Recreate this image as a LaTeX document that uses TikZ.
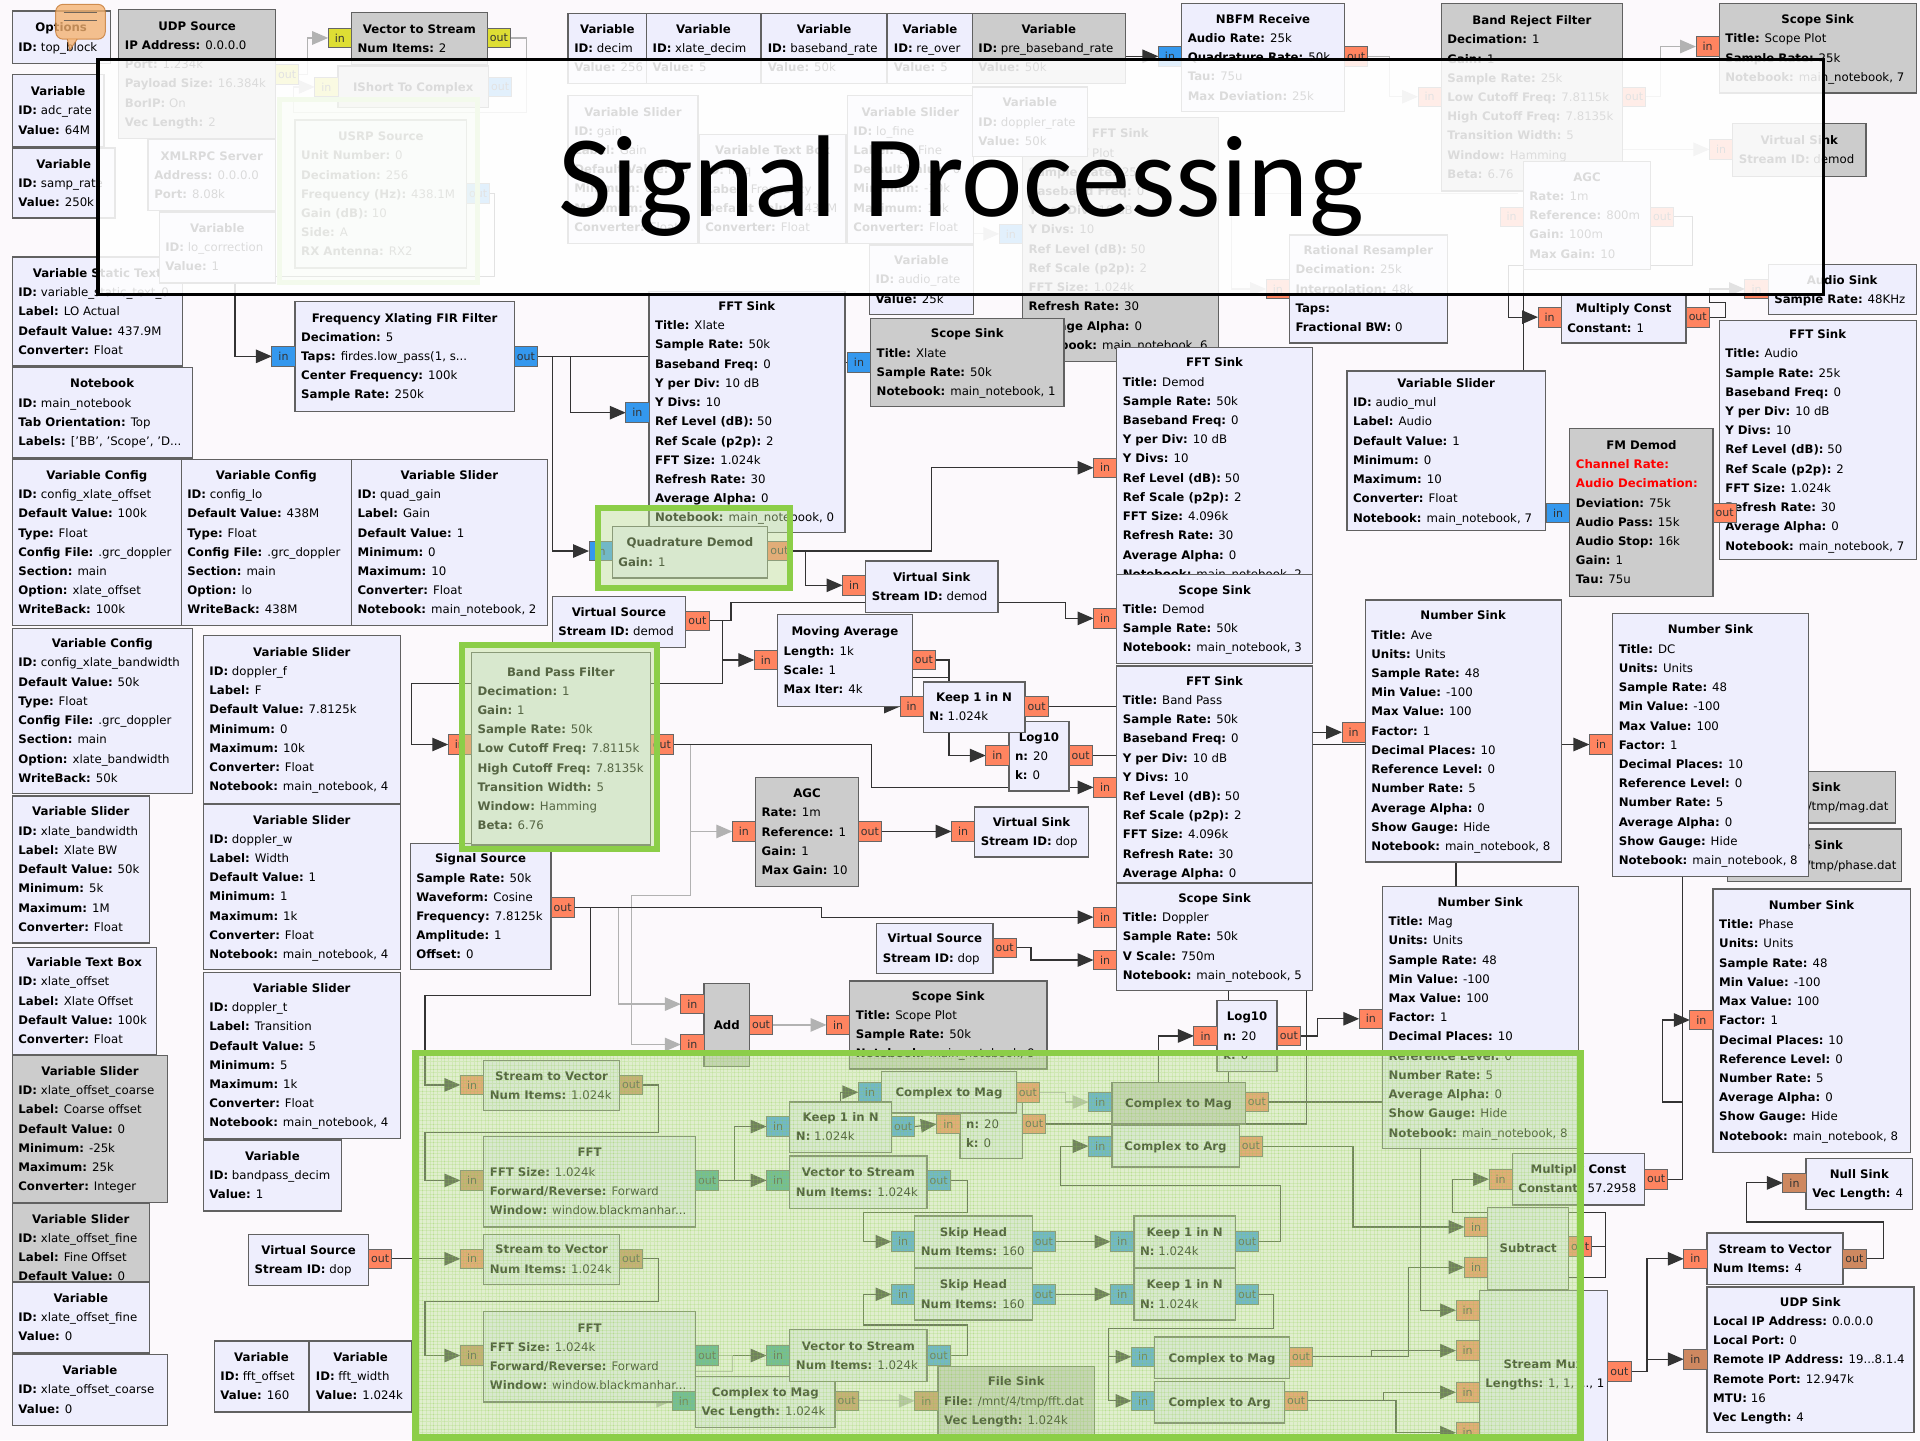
\documentclass[tikz,border=0pt]{standalone}
\usepackage{fontspec}
\setmainfont{DejaVu Sans}
\newfontfamily\headfont{Carlito}
\usetikzlibrary{arrows.meta,calc,patterns}

\definecolor{pagebg}{RGB}{252,249,252}
\definecolor{blkfill}{RGB}{238,238,253}
\definecolor{blkgray}{RGB}{204,204,204}
\definecolor{pblue}{RGB}{52,152,238}
\definecolor{porange}{RGB}{255,132,96}
\definecolor{pyellow}{RGB}{222,222,52}
\definecolor{pteal}{RGB}{58,160,150}
\definecolor{pbrown}{RGB}{206,136,96}
\definecolor{grpgreen}{RGB}{140,206,72}
\definecolor{grpfill}{RGB}{190,225,150}
\definecolor{bubble}{RGB}{245,178,112}
\definecolor{bubbleedge}{RGB}{196,120,50}

\pgfdeclarelayer{bg}
\pgfdeclarelayer{wires}
\pgfdeclarelayer{top}
\pgfsetlayers{bg,wires,main,top}

% block text helpers
\newdimen\blkW
\newcommand\rowstrut{\rule[-2.6pt]{0pt}{12pt}}
\newcommand\kv[2]{\hbox to \blkW{\rowstrut\textbf{#1:} #2\hss}}
\newcommand\kvred[1]{\hbox to \blkW{\rowstrut\textcolor{red}{\textbf{#1:}}\hss}}
\newcommand\blkfont{\fontsize{9.6}{15.7}\selectfont}

% \blk[style]{name}{x1}{y1}{x2}{y2}{title}{rows}
\newcommand\blk[8][]{%
  \node[blk,#1,anchor=north west,minimum width={#5-#3},minimum height={#6-#4}] (#2) at (#3,#4) {};
  \node[inner sep=0pt,font=\blkfont] at (#2.center) {\blkW=\dimexpr #5pt-#3pt-10pt\relax
    \vbox{\baselineskip=15.7pt\lineskiplimit=-20pt\lineskip=0pt
      \hbox to \blkW{\hss\rowstrut\textbf{#7}\hss}#8}};
}
% ports
\newcommand\pin[4][porange]{\node[port,fill=#1,anchor=east] (#2) at (#3,#4) {in};}
\newcommand\pout[4][porange]{\node[port,fill=#1,anchor=west] (#2) at (#3,#4) {out};}

\tikzset{
  blk/.style={draw=black!62, line width=1.1pt, fill=blkfill, inner sep=0pt, outer sep=0pt},
  offblk/.style={fill=blkgray},
  port/.style={draw=black!60, line width=0.7pt, minimum height=16pt, minimum width=19pt,
    inner sep=0pt, outer sep=0pt, font=\fontsize{9}{9}\selectfont, text=black!80},
  wire/.style={draw=black!80, line width=1pt, -{Triangle[length=13pt,width=11pt]}},
  wireg/.style={draw=black!30, line width=1pt, -{Triangle[length=13pt,width=11pt]}},
  wirenoarr/.style={draw=black!80, line width=1pt},
}

\begin{document}
\begin{tikzpicture}[x=1pt,y=-1pt]
\useasboundingbox (0,0) rectangle (1568,1176);
\begin{pgfonlayer}{bg}
  \fill[pagebg] (0,0) rectangle (1568,1176);
\end{pgfonlayer}

% ---------------- top left ----------------
\blk{opt}{10}{9}{90}{52}{Options}{\kv{ID}{top\_block}}
\blk[offblk]{udpsrc}{97}{8}{225}{113}{UDP Source}{\kv{IP Address}{0.0.0.0}\kv{Port}{1.234k}\kv{Payload Size}{16.384k}\kv{BorIP}{On}\kv{Vec Length}{2}}
\pout[pyellow]{udpsrc-out}{225}{61}
\blk[offblk]{vtos}{287}{10}{398}{53}{Vector to Stream}{\kv{Num Items}{2}}
\pin[pyellow]{vtos-in}{287}{31}
\pout[pyellow]{vtos-out}{398}{31}
\blk[offblk]{ishort}{276}{54}{399}{88}{IShort To Complex}{}
\pin[pyellow]{ishort-in}{276}{71}
\pout[pblue]{ishort-out}{399}{71}
\blk{adcrate}{10}{61}{85}{120}{Variable}{\kv{ID}{adc\_rate}\kv{Value}{64M}}
\blk{samprate}{10}{121}{94}{178}{Variable}{\kv{ID}{samp\_rate}\kv{Value}{250k}}
\blk{xmlrpc}{121}{114}{225}{172}{XMLRPC Server}{\kv{Address}{0.0.0.0}\kv{Port}{8.08k}}
\blk{usrp}{241}{98}{381}{219}{USRP Source}{\kv{Unit Number}{0}\kv{Decimation}{256}\kv{Frequency (Hz)}{438.1M}\kv{Gain (dB)}{10}\kv{Side}{A}\kv{RX Antenna}{RX2}}
\pout[pblue]{usrp-out}{381}{158}
\blk{statictext}{10}{210}{149}{299}{Variable Static Text}{\kv{ID}{variable\_static\_text\_0}\kv{Label}{LO Actual}\kv{Default Value}{437.9M}\kv{Converter}{Float}}
\blk{locorr}{130}{173}{225}{231}{Variable}{\kv{ID}{lo\_correction}\kv{Value}{1}}
\blk{notebook}{10}{300}{157}{374}{Notebook}{\kv{ID}{main\_notebook}\kv{Tab Orientation}{Top}\kv{Labels}{['BB', 'Scope', 'D...}}
\blk{fxlate}{241}{246}{420}{336}{Frequency Xlating FIR Filter}{\kv{Decimation}{5}\kv{Taps}{firdes.low\_pass(1, s...}\kv{Center Frequency}{100k}\kv{Sample Rate}{250k}}
\pin[pblue]{fxlate-in}{241}{291}
\pout[pblue]{fxlate-out}{420}{291}

% ---------------- left column ----------------
\blk{cfgxoff}{10}{375}{148}{511}{Variable Config}{\kv{ID}{config\_xlate\_offset}\kv{Default Value}{100k}\kv{Type}{Float}\kv{Config File}{.grc\_doppler}\kv{Section}{main}\kv{Option}{xlate\_offset}\kv{WriteBack}{100k}}
\blk{cfglo}{148}{375}{287}{511}{Variable Config}{\kv{ID}{config\_lo}\kv{Default Value}{438M}\kv{Type}{Float}\kv{Config File}{.grc\_doppler}\kv{Section}{main}\kv{Option}{lo}\kv{WriteBack}{438M}}
\blk{slquad}{287}{375}{447}{511}{Variable Slider}{\kv{ID}{quad\_gain}\kv{Label}{Gain}\kv{Default Value}{1}\kv{Minimum}{0}\kv{Maximum}{10}\kv{Converter}{Float}\kv{Notebook}{main\_notebook, 2}}
\blk{cfgxbw}{10}{513}{157}{648}{Variable Config}{\kv{ID}{config\_xlate\_bandwidth}\kv{Default Value}{50k}\kv{Type}{Float}\kv{Config File}{.grc\_doppler}\kv{Section}{main}\kv{Option}{xlate\_bandwidth}\kv{WriteBack}{50k}}
\blk{slxbw}{10}{650}{122}{770}{Variable Slider}{\kv{ID}{xlate\_bandwidth}\kv{Label}{Xlate BW}\kv{Default Value}{50k}\kv{Minimum}{5k}\kv{Maximum}{1M}\kv{Converter}{Float}}
\blk{tbxoff}{10}{774}{128}{861}{Variable Text Box}{\kv{ID}{xlate\_offset}\kv{Label}{Xlate Offset}\kv{Default Value}{100k}\kv{Converter}{Float}}
\blk[offblk]{slcoarse}{10}{862}{137}{982}{Variable Slider}{\kv{ID}{xlate\_offset\_coarse}\kv{Label}{Coarse offset}\kv{Default Value}{0}\kv{Minimum}{-25k}\kv{Maximum}{25k}\kv{Converter}{Integer}}
\blk[offblk]{slfine}{10}{983}{122}{1102}{Variable Slider}{\kv{ID}{xlate\_offset\_fine}\kv{Label}{Fine Offset}\kv{Default Value}{0}\kv{Minimum}{-1k}\kv{Maximum}{1k}\kv{Converter}{Float}}
\blk{vfine}{10}{1047}{122}{1105}{Variable}{\kv{ID}{xlate\_offset\_fine}\kv{Value}{0}}
\blk{vcoarse}{10}{1106}{137}{1164}{Variable}{\kv{ID}{xlate\_offset\_coarse}\kv{Value}{0}}
\blk{dopf}{166}{519}{327}{656}{Variable Slider}{\kv{ID}{doppler\_f}\kv{Label}{F}\kv{Default Value}{7.8125k}\kv{Minimum}{0}\kv{Maximum}{10k}\kv{Converter}{Float}\kv{Notebook}{main\_notebook, 4}}
\blk{dopw}{166}{657}{327}{792}{Variable Slider}{\kv{ID}{doppler\_w}\kv{Label}{Width}\kv{Default Value}{1}\kv{Minimum}{1}\kv{Maximum}{1k}\kv{Converter}{Float}\kv{Notebook}{main\_notebook, 4}}
\blk{dopt}{166}{794}{327}{930}{Variable Slider}{\kv{ID}{doppler\_t}\kv{Label}{Transition}\kv{Default Value}{5}\kv{Minimum}{5}\kv{Maximum}{1k}\kv{Converter}{Float}\kv{Notebook}{main\_notebook, 4}}
\blk{bpdecim}{166}{931}{279}{989}{Variable}{\kv{ID}{bandpass\_decim}\kv{Value}{1}}
\blk{vsrcdop}{203}{1008}{301}{1050}{Virtual Source}{\kv{Stream ID}{dop}}
\pout{vsrcdop-out}{301}{1028}
\blk{fftoff}{175}{1095}{252}{1153}{Variable}{\kv{ID}{fft\_offset}\kv{Value}{160}}
\blk{fftwid}{253}{1095}{336}{1153}{Variable}{\kv{ID}{fft\_width}\kv{Value}{1.024k}}

% ---------------- top row ----------------
\blk{vdecim}{464}{11}{528}{68}{Variable}{\kv{ID}{decim}\kv{Value}{256}}
\blk{vxdecim}{528}{11}{621}{68}{Variable}{\kv{ID}{xlate\_decim}\kv{Value}{5}}
\blk{vbbrate}{622}{11}{724}{68}{Variable}{\kv{ID}{baseband\_rate}\kv{Value}{50k}}
\blk{vreover}{725}{11}{794}{68}{Variable}{\kv{ID}{re\_over}\kv{Value}{5}}
\blk[offblk]{vprebb}{794}{11}{919}{68}{Variable}{\kv{ID}{pre\_baseband\_rate}\kv{Value}{50k}}
\blk{slgain}{464}{78}{570}{199}{Variable Slider}{\kv{ID}{gain}\kv{Label}{Gain}\kv{Default Value}{10}\kv{Minimum}{0}\kv{Maximum}{50}\kv{Converter}{Float}}
\blk{tbfreq}{571}{110}{691}{199}{Variable Text Box}{\kv{ID}{freq}\kv{Label}{Frequency}\kv{Default Value}{438M}\kv{Converter}{Float}}
\blk{sllofine}{692}{78}{795}{199}{Variable Slider}{\kv{ID}{lo\_fine}\kv{Label}{LO Fine}\kv{Default Value}{0}\kv{Minimum}{-10k}\kv{Maximum}{10k}\kv{Converter}{Float}}
\blk{vaudiorate}{710}{200}{795}{257}{Variable}{\kv{ID}{audio\_rate}\kv{Value}{25k}}
\blk[offblk]{fftfaded}{835}{96}{995}{295}{FFT Sink}{\kv{Title}{FFT Plot}\kv{Sample Rate}{25k}\kv{Baseband Freq}{0}\kv{Y per Div}{10 dB}\kv{Y Divs}{10}\kv{Ref Level (dB)}{50}\kv{Ref Scale (p2p)}{2}\kv{FFT Size}{1.024k}\kv{Refresh Rate}{30}\kv{Average Alpha}{0}\kv{Notebook}{main\_notebook, 6}}
\pin[pblue]{fftfaded-in}{835}{191}
\blk{vdopprate}{794}{71}{888}{128}{Variable}{\kv{ID}{doppler\_rate}\kv{Value}{50k}}
\blk{nbfm}{965}{3}{1098}{91}{NBFM Receive}{\kv{Audio Rate}{25k}\kv{Quadrature Rate}{50k}\kv{Tau}{75u}\kv{Max Deviation}{25k}}
\pin[pblue]{nbfm-in}{965}{46}
\pout{nbfm-out}{1098}{46}
\blk[offblk]{brf}{1177}{3}{1325}{156}{Band Reject Filter}{\kv{Decimation}{1}\kv{Gain}{1}\kv{Sample Rate}{25k}\kv{Low Cutoff Freq}{7.8115k}\kv{High Cutoff Freq}{7.8135k}\kv{Transition Width}{5}\kv{Window}{Hamming}\kv{Beta}{6.76}}
\pin{brf-in}{1177}{79}
\pout{brf-out}{1325}{79}
\blk[offblk]{scopetop}{1404}{3}{1565}{76}{Scope Sink}{\kv{Title}{Scope Plot}\kv{Sample Rate}{25k}\kv{Notebook}{main\_notebook, 7}}
\pin{scopetop-in}{1404}{38}
\blk[offblk]{vsdt}{1415}{101}{1524}{144}{Virtual Sink}{\kv{Stream ID}{demod}}
\pin{vsdt-in}{1415}{122}
\blk{agcf}{1244}{132}{1348}{220}{AGC}{\kv{Rate}{1m}\kv{Reference}{800m}\kv{Gain}{100m}\kv{Max Gain}{10}}
\pin{agcf-in}{1244}{177}
\pout{agcf-out}{1348}{177}
\blk{ratres}{1053}{192}{1182}{280}{Rational Resampler}{\kv{Decimation}{25k}\kv{Interpolation}{48k}\kv{Taps}{}\kv{Fractional BW}{0}}
\pin{ratres-in}{1053}{236}
\blk{audiosink}{1444}{216}{1565}{257}{Audio Sink}{\kv{Sample Rate}{48KHz}}
\pin{audiosink-in}{1444}{236}
\blk{mc}{1275}{240}{1377}{280}{Multiply Const}{\kv{Constant}{1}}
\pin{mc-in}{1275}{259}
\pout{mc-out}{1377}{259}
\blk{fftaudio}{1404}{262}{1565}{457}{FFT Sink}{\kv{Title}{Audio}\kv{Sample Rate}{25k}\kv{Baseband Freq}{0}\kv{Y per Div}{10 dB}\kv{Y Divs}{10}\kv{Ref Level (dB)}{50}\kv{Ref Scale (p2p)}{2}\kv{FFT Size}{1.024k}\kv{Refresh Rate}{30}\kv{Average Alpha}{0}\kv{Notebook}{main\_notebook, 7}}
\blk{slaudio}{1100}{303}{1262}{433}{Variable Slider}{\kv{ID}{audio\_mul}\kv{Label}{Audio}\kv{Default Value}{1}\kv{Minimum}{0}\kv{Maximum}{10}\kv{Converter}{Float}\kv{Notebook}{main\_notebook, 7}}
\blk[offblk]{fmdemod}{1282}{350}{1399}{487}{FM Demod}{\kvred{Channel Rate}\kvred{Audio Decimation}\kv{Deviation}{75k}\kv{Audio Pass}{15k}\kv{Audio Stop}{16k}\kv{Gain}{1}\kv{Tau}{75u}}
\pin[pblue]{fmdemod-in}{1282}{419}
\pout{fmdemod-out}{1399}{419}

% ---------------- middle ----------------
\blk{fftxlate}{530}{238}{690}{435}{FFT Sink}{\kv{Title}{Xlate}\kv{Sample Rate}{50k}\kv{Baseband Freq}{0}\kv{Y per Div}{10 dB}\kv{Y Divs}{10}\kv{Ref Level (dB)}{50}\kv{Ref Scale (p2p)}{2}\kv{FFT Size}{1.024k}\kv{Refresh Rate}{30}\kv{Average Alpha}{0}\kv{Notebook}{main\_notebook, 0}}
\pin[pblue]{fftxlate-in}{530}{337}
\blk[offblk]{scopexlate}{711}{260}{869}{332}{Scope Sink}{\kv{Title}{Xlate}\kv{Sample Rate}{50k}\kv{Notebook}{main\_notebook, 1}}
\pin[pblue]{scopexlate-in}{711}{296}
\blk{fftdemod}{912}{284}{1072}{481}{FFT Sink}{\kv{Title}{Demod}\kv{Sample Rate}{50k}\kv{Baseband Freq}{0}\kv{Y per Div}{10 dB}\kv{Y Divs}{10}\kv{Ref Level (dB)}{50}\kv{Ref Scale (p2p)}{2}\kv{FFT Size}{4.096k}\kv{Refresh Rate}{30}\kv{Average Alpha}{0}\kv{Notebook}{main\_notebook, 2}}
\pin{fftdemod-in}{912}{382}
\blk{scopedemod}{912}{469}{1072}{542}{Scope Sink}{\kv{Title}{Demod}\kv{Sample Rate}{50k}\kv{Notebook}{main\_notebook, 3}}
\pin{scopedemod-in}{912}{505}
\blk{fftbp}{912}{544}{1072}{741}{FFT Sink}{\kv{Title}{Band Pass}\kv{Sample Rate}{50k}\kv{Baseband Freq}{0}\kv{Y per Div}{10 dB}\kv{Y Divs}{10}\kv{Ref Level (dB)}{50}\kv{Ref Scale (p2p)}{2}\kv{FFT Size}{4.096k}\kv{Refresh Rate}{30}\kv{Average Alpha}{0}\kv{Notebook}{main\_notebook, 4}}
\pin{fftbp-in}{912}{643}
\blk{scopedop}{912}{721}{1072}{809}{Scope Sink}{\kv{Title}{Doppler}\kv{Sample Rate}{50k}\kv{V Scale}{750m}\kv{Notebook}{main\_notebook, 5}}
\pin{scopedop-in1}{912}{749}
\pin{scopedop-in2}{912}{784}
\blk{qd}{500}{430}{627}{472}{Quadrature Demod}{\kv{Gain}{1}}
\pin[pblue]{qd-in}{500}{450}
\pout{qd-out}{627}{450}
\blk{vsinkdemod}{707}{458}{815}{500}{Virtual Sink}{\kv{Stream ID}{demod}}
\pin{vsinkdemod-in}{707}{478}
\blk{vsrcdemod}{451}{487}{560}{529}{Virtual Source}{\kv{Stream ID}{demod}}
\pout{vsrcdemod-out}{560}{507}
\blk{movavg}{635}{502}{745}{577}{Moving Average}{\kv{Length}{1k}\kv{Scale}{1}\kv{Max Iter}{4k}}
\pin{movavg-in}{635}{539}
\pout{movavg-out}{745}{539}
\blk{log10ave}{824}{589}{873}{646}{Log10}{\kv{n}{20}\kv{k}{0}}
\pin{log10ave-in}{824}{617}
\pout{log10ave-out}{873}{617}
\blk{keepave}{754}{557}{837}{598}{Keep 1 in N}{\kv{N}{1.024k}}
\pin{keepave-in}{754}{577}
\pout{keepave-out}{837}{577}
\blk{sigsrc}{335}{689}{450}{792}{Signal Source}{\kv{Sample Rate}{50k}\kv{Waveform}{Cosine}\kv{Frequency}{7.8125k}\kv{Amplitude}{1}\kv{Offset}{0}}
\pout{sigsrc-out}{450}{741}
\blk{bpf}{385}{533}{531}{690}{Band Pass Filter}{\kv{Decimation}{1}\kv{Gain}{1}\kv{Sample Rate}{50k}\kv{Low Cutoff Freq}{7.8115k}\kv{High Cutoff Freq}{7.8135k}\kv{Transition Width}{5}\kv{Window}{Hamming}\kv{Beta}{6.76}}
\pin{bpf-in}{385}{608}
\pout{bpf-out}{531}{608}
\blk[offblk]{agc}{617}{635}{701}{724}{AGC}{\kv{Rate}{1m}\kv{Reference}{1}\kv{Gain}{1}\kv{Max Gain}{10}}
\pin{agc-in}{617}{679}
\pout{agc-out}{701}{679}
\blk{vsinkdop}{796}{659}{889}{700}{Virtual Sink}{\kv{Stream ID}{dop}}
\pin{vsinkdop-in}{796}{679}
\blk{vsrcdopm}{716}{754}{811}{795}{Virtual Source}{\kv{Stream ID}{dop}}
\pout{vsrcdopm-out}{811}{774}
\blk[offblk]{add}{575}{803}{612}{871}{Add}{}
\pin{add-in1}{575}{820}
\pin{add-in2}{575}{853}
\pout{add-out}{612}{837}
\blk[offblk]{scopeplot}{694}{801}{855}{873}{Scope Sink}{\kv{Title}{Scope Plot}\kv{Sample Rate}{50k}\kv{Notebook}{main\_notebook, 9}}
\pin{scopeplot-in}{694}{837}
\blk{log10low}{994}{817}{1043}{875}{Log10}{\kv{n}{20}\kv{k}{0}}
\pin{log10low-in}{994}{846}
\pout{log10low-out}{1043}{846}

% ---------------- number sinks, right side ----------------
\blk{nsave}{1115}{490}{1275}{704}{Number Sink}{\kv{Title}{Ave}\kv{Units}{Units}\kv{Sample Rate}{48}\kv{Min Value}{-100}\kv{Max Value}{100}\kv{Factor}{1}\kv{Decimal Places}{10}\kv{Reference Level}{0}\kv{Number Rate}{5}\kv{Average Alpha}{0}\kv{Show Gauge}{Hide}\kv{Notebook}{main\_notebook, 8}}
\pin{nsave-in}{1115}{598}
\blk[offblk]{fsmag}{1412}{630}{1548}{672}{File Sink}{\kv{File}{/mnt/4/tmp/mag.dat}}
\blk[offblk]{fsphase}{1411}{677}{1553}{720}{File Sink}{\kv{File}{/mnt/4/tmp/phase.dat}}
\blk{nsdc}{1317}{501}{1477}{716}{Number Sink}{\kv{Title}{DC}\kv{Units}{Units}\kv{Sample Rate}{48}\kv{Min Value}{-100}\kv{Max Value}{100}\kv{Factor}{1}\kv{Decimal Places}{10}\kv{Reference Level}{0}\kv{Number Rate}{5}\kv{Average Alpha}{0}\kv{Show Gauge}{Hide}\kv{Notebook}{main\_notebook, 8}}
\pin{nsdc-in}{1317}{608}
\blk{nsmag}{1129}{724}{1289}{938}{Number Sink}{\kv{Title}{Mag}\kv{Units}{Units}\kv{Sample Rate}{48}\kv{Min Value}{-100}\kv{Max Value}{100}\kv{Factor}{1}\kv{Decimal Places}{10}\kv{Reference Level}{0}\kv{Number Rate}{5}\kv{Average Alpha}{0}\kv{Show Gauge}{Hide}\kv{Notebook}{main\_notebook, 8}}
\pin{nsmag-in}{1129}{832}
\blk{nsphase}{1399}{726}{1560}{941}{Number Sink}{\kv{Title}{Phase}\kv{Units}{Units}\kv{Sample Rate}{48}\kv{Min Value}{-100}\kv{Max Value}{100}\kv{Factor}{1}\kv{Decimal Places}{10}\kv{Reference Level}{0}\kv{Number Rate}{5}\kv{Average Alpha}{0}\kv{Show Gauge}{Hide}\kv{Notebook}{main\_notebook, 8}}
\pin{nsphase-in}{1399}{833}
\blk{nullsink}{1475}{946}{1562}{988}{Null Sink}{\kv{Vec Length}{4}}
\pin[pbrown]{nullsink-in}{1475}{966}
\blk{stvR}{1394}{1007}{1505}{1049}{Stream to Vector}{\kv{Num Items}{4}}
\pin{stvR-in}{1394}{1028}
\pout[pbrown]{stvR-out}{1505}{1028}
\blk{udpsink}{1394}{1051}{1563}{1170}{UDP Sink}{\kv{Local IP Address}{0.0.0.0}\kv{Local Port}{0}\kv{Remote IP Address}{19...8.1.4}\kv{Remote Port}{12.947k}\kv{MTU}{16}\kv{Vec Length}{4}}
\pin[pbrown]{udpsink-in}{1394}{1110}
\blk{mc2}{1235}{942}{1343}{984}{Multiply Const}{\kv{Constant}{57.2958}}
\pin{mc2-in}{1235}{963}
\pout{mc2-out}{1343}{963}
\blk{sub}{1215}{986}{1281}{1053}{Subtract}{}
\pin{sub-in1}{1215}{1002}
\pin{sub-in2}{1215}{1035}
\pout{sub-out}{1281}{1018}
\blk{smux}{1208}{1054}{1313}{1190}{Stream Mux}{\kv{Lengths}{1, 1, ..., 1}}
\pin{smux-in1}{1208}{1070}
\pin{smux-in2}{1208}{1103}
\pin{smux-in3}{1208}{1137}
\pin{smux-in4}{1208}{1170}
\pout{smux-out}{1313}{1120}

% ---------------- FFT group ----------------
\blk{stv1}{395}{866}{506}{907}{Stream to Vector}{\kv{Num Items}{1.024k}}
\pin{stv1-in}{395}{886}
\pout[pbrown]{stv1-out}{506}{886}
\blk{fft1}{395}{928}{568}{1002}{FFT}{\kv{FFT Size}{1.024k}\kv{Forward/Reverse}{Forward}\kv{Window}{window.blackmanhar...}}
\pin[pbrown]{fft1-in}{395}{964}
\pout[pteal]{fft1-out}{568}{964}
\blk{stv2}{395}{1008}{506}{1049}{Stream to Vector}{\kv{Num Items}{1.024k}}
\pin{stv2-in}{395}{1028}
\pout[pbrown]{stv2-out}{506}{1028}
\blk{fft2}{395}{1071}{568}{1145}{FFT}{\kv{FFT Size}{1.024k}\kv{Forward/Reverse}{Forward}\kv{Window}{window.blackmanhar...}}
\pin[pbrown]{fft2-in}{395}{1107}
\pout[pteal]{fft2-out}{568}{1107}
\blk{ctomagv}{568}{1124}{682}{1166}{Complex to Mag}{\kv{Vec Length}{1.024k}}
\pin[pteal]{ctomagv-in}{568}{1144}
\pout[pbrown]{ctomagv-out}{682}{1144}
\blk{v2s1}{645}{944}{757}{987}{Vector to Stream}{\kv{Num Items}{1.024k}}
\pin[pteal]{v2s1-in}{645}{964}
\pout[pblue]{v2s1-out}{757}{964}
\blk{v2s2}{645}{1086}{757}{1128}{Vector to Stream}{\kv{Num Items}{1.024k}}
\pin[pteal]{v2s2-in}{645}{1107}
\pout[pblue]{v2s2-out}{757}{1107}
\blk{log10h}{784}{890}{835}{946}{Log10}{\kv{n}{20}\kv{k}{0}}
\pin{log10h-in}{784}{918}
\pout{log10h-out}{835}{918}
\blk{ctomags}{720}{875}{830}{909}{Complex to Mag}{}
\pin[pblue]{ctomags-in}{720}{892}
\pout{ctomags-out}{830}{892}
\blk{keepA}{645}{900}{728}{941}{Keep 1 in N}{\kv{N}{1.024k}}
\pin[pblue]{keepA-in}{645}{920}
\pout[pblue]{keepA-out}{728}{920}
\blk{skip1}{747}{993}{843}{1035}{Skip Head}{\kv{Num Items}{160}}
\pin[pblue]{skip1-in}{747}{1014}
\pout[pblue]{skip1-out}{843}{1014}
\blk{skip2}{747}{1036}{843}{1078}{Skip Head}{\kv{Num Items}{160}}
\pin[pblue]{skip2-in}{747}{1057}
\pout[pblue]{skip2-out}{843}{1057}
\blk[offblk]{fsfft}{766}{1116}{894}{1172}{File Sink}{\kv{File}{/mnt/4/tmp/fft.dat}\kv{Vec Length}{1.024k}}
\pin[pbrown]{fsfft-in}{766}{1144}
\blk[offblk]{ctomagb}{908}{884}{1017}{918}{Complex to Mag}{}
\pin[pblue]{ctomagb-in}{908}{900}
\pout{ctomagb-out}{1017}{900}
\blk{ctoarg}{908}{919}{1012}{953}{Complex to Arg}{}
\pin[pblue]{ctoarg-in}{908}{936}
\pout{ctoarg-out}{1012}{936}
\blk{keepB1}{926}{993}{1009}{1035}{Keep 1 in N}{\kv{N}{1.024k}}
\pin[pblue]{keepB1-in}{926}{1014}
\pout[pblue]{keepB1-out}{1009}{1014}
\blk{keepB2}{926}{1036}{1009}{1078}{Keep 1 in N}{\kv{N}{1.024k}}
\pin[pblue]{keepB2-in}{926}{1057}
\pout[pblue]{keepB2-out}{1009}{1057}
\blk{ctomag3}{943}{1092}{1053}{1126}{Complex to Mag}{}
\pin[pblue]{ctomag3-in}{943}{1108}
\pout{ctomag3-out}{1053}{1108}
\blk{ctoarg3}{943}{1128}{1049}{1162}{Complex to Arg}{}
\pin[pblue]{ctoarg3-in}{943}{1144}
\pout{ctoarg3-out}{1049}{1144}

% comment bubble on the options block (translucent, text shows through)
\begin{scope}[opacity=0.78]
\filldraw[fill=bubble, draw=bubbleedge, line width=0.8pt, rounded corners=6pt] (45.5,3.5) rectangle (86,32);
\fill[bubble] (55,31.6) -- (57,41) -- (63,31.6) -- cycle;
\draw[bubbleedge, line width=0.8pt] (55,32) -- (57,41) -- (63,32);
\draw[black!70, line width=1pt] (52,10.3) -- (79,10.3) (52,16.9) -- (79,16.9);
\end{scope}

\coordinate (fadedsrc) at (788,191);
\coordinate (rrsrc) at (1240,158);

% ---------------- connections ----------------
\begin{pgfonlayer}{wires}
\draw[wireg] (udpsrc-out.east) -| (251,31) -- (vtos-in.west);
\draw[wireg] (vtos-out.east) -| (430,92) -| (240,71) -- (ishort-in.west);
\draw[wire] (usrp-out.east) -| (404,226) -| (192,291) -- (fxlate-in.west);
\draw[wire] (vprebb.center |- nbfm-in) -- (nbfm-in.west);
\draw[wireg] (nbfm-out.east) -| (1135,79) -- (brf-in.west);
\draw[wireg] (brf-out.east) -| (1356,38) -- (scopetop-in.west);
\draw[wireg] (brf.center |- vsdt-in) -- (vsdt-in.west);
\draw[wireg] (fadedsrc) -- (fftfaded-in.west);
\draw[wireg] (rrsrc) -| (1006,236) -- (ratres-in.west);
\draw[wire] (agcf-out.east) -| (1382,217) -| (1232,259) -- (mc-in.west);
\draw[wirenoarr] (agcf.south west) |- (fmdemod-in.west);
\draw[wire] (mc-out.east) -| (1409,247) -| (1396,236) -- (audiosink-in.west);

\draw[wirenoarr] (fxlate-out.east) -- (683,291) |- (scopexlate-in.west);
\draw[wire] (fxlate-out.east) -| (451,450) -- (qd-in.west);
\draw[wire] (fxlate-out.east) -| (466,337) -- (fftxlate-in.west);
\draw[wire] (qd-out.east) -| (658,478) -- (vsinkdemod-in.west);
\draw[wire] (qd-out.east) -| (761,382) -- (fftdemod-in.west);
\draw[wire] (vsrcdemod-out.east) -| (590,539) -- (movavg-in.west);
\draw[wire] (vsrcdemod-out.east) -| (590,558) -| (336,608) -- (bpf-in.west);
\draw[wire] (vsrcdemod-out.east) -| (597,492) -| (870,505) -- (scopedemod-in.west);
\draw[wire] (movavg-out.east) -| (775,617) -- (log10ave-in.west);
\draw[wire] (movavg-out.east) -| (775,553) -| (718,577) -- (keepave-in.west);
\draw[wire] (keepave-out.east) -| (1060,598) -- (nsave-in.west);
\draw[wire] (log10ave-out.east) -| (1000,608) -- (nsdc-in.west);
\draw[wireg] (bpf-out.east) -| (564,679) -- (agc-in.west);
\draw[wireg] (bpf-out.east) -| (564,731) -| (516,853) -- (add-in2.west);
\draw[wire] (bpf-out.east) -| (712,643) -- (fftbp-in.west);
\draw[wireg] (sigsrc-out.east) -| (505,820) -- (add-in1.west);
\draw[wire] (sigsrc-out.east) -| (671,749) -- (scopedop-in1.west);
\draw[wire] (sigsrc-out.east) -| (482,813) -| (347,886) -- (stv1-in.west);
\draw[wire] (agc-out.east) -- (vsinkdop-in.west);
\draw[wire] (vsrcdopm-out.east) -| (842,784) -- (scopedop-in2.west);
\draw[wireg] (add-out.east) -- (scopeplot-in.west);
\draw[wire] (vsrcdop-out.east) -- (stv2-in.west);

\draw[wire] (stv1-out.east) -| (538,925) -| (347,964) -- (fft1-in.west);
\draw[wire] (stv2-out.east) -| (538,1063) -| (347,1107) -- (fft2-in.west);
\draw[wire] (fft1-out.east) -- (v2s1-in.west);
\draw[wire] (fft1-out.east) -| (600,920) -- (keepA-in.west);
\draw[wire] (fft2-out.east) -- (v2s2-in.west);
\draw[wireg] (fft2-out.east) -| (598,1120) -| (530,1144) -- (ctomagv-in.west);
\draw[wireg] (ctomagv-out.east) -- (fsfft-in.west);
\draw[wire] (v2s1-out.east) -| (790,990) -| (705,1014) -- (skip1-in.west);
\draw[wire] (v2s2-out.east) -| (790,1082) -| (705,1057) -- (skip2-in.west);
\draw[wire] (skip1-out.east) -- (keepB1-in.west);
\draw[wire] (skip2-out.east) -- (keepB2-in.west);
\draw[wire] (keepA-out.east) -- (log10h-in.west);
\draw[wire] (keepA.center) |- (ctomags-in.west);
\draw[wireg] (ctomags-out.east) -| (870,900) -- (ctomagb-in.west);
\draw[wire] (keepB1-out.east) -| (1046,968) -| (866,936) -- (ctoarg-in.west);
\draw[wire] (keepB2-out.east) -| (1040,1085) -| (905,1108) -- (ctomag3-in.west);
\draw[wire] (keepB2-out.east) -| (1040,1085) -| (905,1144) -- (ctoarg3-in.west);
\draw[wirenoarr] (log10h-out.east) -| ($(scopedop.south west)+(155,0)$);
\draw[wirenoarr] ($(scopedop.south west)+(91,0)$) -- ($(ctomagb.north west)+(95,0)$);
\draw[wire] ($(ctomagb.north west)+(38,16)$) |- (log10low-in.west);
\draw[wire] (log10low-out.east) -| (1076,832) -- (nsmag-in.west);
\draw[wirenoarr] ($(nsave.south west)+(74,0)$) -- ($(nsmag.north west)+(60,0)$);
\draw[wire] (ctomagb-out.east) -| (1160,1070) -- (smux-in1.west);
\draw[wire] (ctoarg-out.east) -| (1105,1002) -- (sub-in1.west);
\draw[wire] (ctomag3-out.east) -| (1150,1035) -- (sub-in2.west);
\draw[wire] (ctomag3-out.east) -| (1120,1103) -- (smux-in2.west);
\draw[wire] (ctoarg3-out.east) -| (1130,1137) -- (smux-in3.west);
\draw[wire] (ctoarg3-out.east) -| (1140,1170) -- (smux-in4.west);
\draw[wire] (sub-out.east) -| (1311,990) -| (1186,963) -- (mc2-in.west);
\draw[wirenoarr] (sub-out.east) -| (1311,1043) -- ($(sub.south east)+(0,-10)$);
\draw[wire] (mc2-out.east) -| (1374,900) -| (1358,833) -- (nsphase-in.west);
\draw[wirenoarr] (mc2-out.east) -| ($(nsdc.south west)+(57,0)$);
\draw[wire] (smux-out.east) -| (1345,1028) -- (stvR-in.west);
\draw[wire] (smux-out.east) -| (1345,1110) -- (udpsink-in.west);
\draw[wire] (stvR-out.east) -| (1538,998) -| (1426,966) -- (nullsink-in.west);
\end{pgfonlayer}

% ---------------- highlights, group and heading ----------------
\begin{pgfonlayer}{top}
  % frame round the USRP source
  \fill[grpfill, opacity=0.3] (228,81) rectangle (390,231);
  \draw[grpgreen!70, line width=4pt] (228,81) rectangle (390,231);
  % heading panel
  \fill[white, opacity=0.86] (80,48.5) rectangle (1489,240.5);
  \draw[black, line width=2.8pt] (80,48.5) rectangle (1489,240.5);
  \node[inner sep=0pt, font=\headfont\fontsize{95}{95}\selectfont] (heading) at (785,152) {Signal Processing};
  % selected blocks
  \fill[grpfill, opacity=0.45] (488.5,414.5) rectangle (645.5,480.5);
  \draw[grpgreen, line width=5pt] (488.5,414.5) rectangle (645.5,480.5);
  \fill[grpfill, opacity=0.45] (377.5,526.5) rectangle (536.5,693.5);
  \draw[grpgreen, line width=5pt] (377.5,526.5) rectangle (536.5,693.5);
  % FFT group
  \fill[grpfill, opacity=0.45] (339.5,860) rectangle (1290.5,1174);
  \fill[pattern=grid, pattern color=grpgreen, opacity=0.18] (339.5,860) rectangle (1290.5,1174);
  \draw[grpgreen, line width=5.5pt] (339.5,860) rectangle (1290.5,1174);
\end{pgfonlayer}
\end{tikzpicture}
\end{document}
